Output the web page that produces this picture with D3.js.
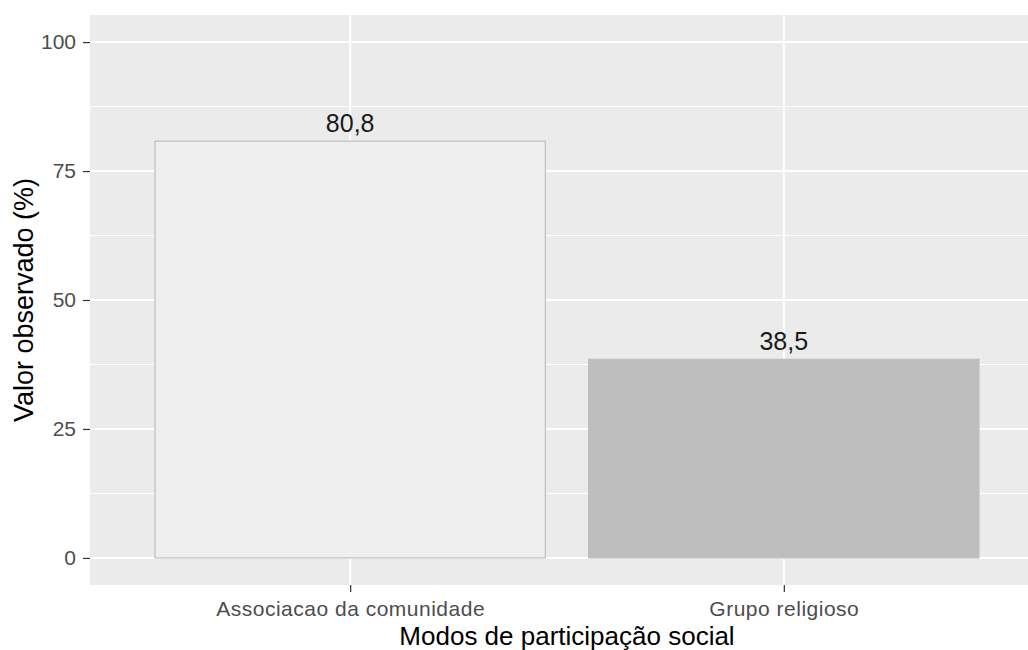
<!DOCTYPE html>
<html>
<head>
<meta charset="utf-8">
<script src="https://cdn.jsdelivr.net/npm/d3@7"></script>
<style>
  body { margin: 0; background: #fff; }
  svg { display: block; font-family: "Liberation Sans", Arial, sans-serif; }
</style>
</head>
<body>
<svg></svg>
<script>
// data
const categories = ['Associacao da comunidade', 'Grupo religioso']
const values = [80.8, 38.5]
const valueLabels = ['80,8', '38,5']
const barFills = ['#efefef', '#bebebe']
const yTicks = [0, 25, 50, 75, 100]
const yMinor = [12.5, 37.5, 62.5, 87.5]

const width = 1028
const height = 650
const panelLeft = 90
const panelRight = 1044
const panelTop = 15
const panelBottom = 585

let svg = d3.select('svg').attr('width', width).attr('height', height)

// ggplot style: discrete expand of 0.6 units, continuous 5%
let step = (panelRight - panelLeft) / 2.2
let xScale = d3.scalePoint()
    .domain(categories)
    .range([panelLeft + step * 0.6, panelRight - step * 0.6])
let barWidth = step * 0.9

let yScale = d3.scaleLinear()
    .domain([-5.25, 105.25])
    .range([panelBottom, panelTop])

// panel
svg.append('rect')
    .attr('x', panelLeft).attr('y', panelTop)
    .attr('width', panelRight - panelLeft).attr('height', panelBottom - panelTop)
    .attr('fill', '#ebebeb')

let grid = svg.append('g')
grid.selectAll('.minor')
    .data(yMinor)
    .enter()
    .append('line')
    .attr('x1', panelLeft).attr('x2', panelRight)
    .attr('y1', d => yScale(d)).attr('y2', d => yScale(d))
    .attr('stroke', '#fff').attr('stroke-width', 1)
grid.selectAll('.major')
    .data(yTicks)
    .enter()
    .append('line')
    .attr('x1', panelLeft).attr('x2', panelRight)
    .attr('y1', d => yScale(d)).attr('y2', d => yScale(d))
    .attr('stroke', '#fff').attr('stroke-width', 2)
grid.selectAll('.vmajor')
    .data(categories)
    .enter()
    .append('line')
    .attr('x1', d => xScale(d)).attr('x2', d => xScale(d))
    .attr('y1', panelTop).attr('y2', panelBottom)
    .attr('stroke', '#fff').attr('stroke-width', 2)

// bars
svg.selectAll('.bar')
    .data(categories)
    .enter()
    .append('rect')
    .attr('class', 'bar')
    .attr('x', d => xScale(d) - barWidth / 2)
    .attr('y', (d, i) => yScale(values[i]))
    .attr('width', barWidth)
    .attr('height', (d, i) => yScale(0) - yScale(values[i]))
    .attr('fill', (d, i) => barFills[i])
    .attr('stroke', '#bebebe')
    .attr('stroke-width', 1.2)

svg.selectAll('.label')
    .data(categories)
    .enter()
    .append('text')
    .attr('x', d => xScale(d))
    .attr('y', (d, i) => yScale(values[i]) - 9)
    .attr('text-anchor', 'middle')
    .attr('font-size', 25)
    .attr('fill', '#1a1a1a')
    .text((d, i) => valueLabels[i])

// axes
let xAxis = d3.axisBottom(xScale).tickSize(7).tickPadding(9)
let yAxis = d3.axisLeft(yScale).tickValues(yTicks).tickSize(7).tickPadding(7)

let gx = svg.append('g')
    .attr('transform', 'translate(0,' + panelBottom + ')')
    .call(xAxis)
gx.select('.domain').remove()
gx.selectAll('line').attr('stroke', '#333').attr('stroke-width', 1.2)
gx.selectAll('text').attr('font-size', 21).attr('letter-spacing', 0.5).attr('fill', '#4d4d4d')

let gy = svg.append('g')
    .attr('transform', 'translate(' + panelLeft + ',0)')
    .call(yAxis)
gy.select('.domain').remove()
gy.selectAll('line').attr('stroke', '#333').attr('stroke-width', 1.2)
gy.selectAll('text').attr('font-size', 21).attr('fill', '#4d4d4d')
gx.attr('font-family', null)
gy.attr('font-family', null)

// titles
svg.append('text')
    .attr('x', (panelLeft + panelRight) / 2)
    .attr('y', 645)
    .attr('text-anchor', 'middle')
    .attr('font-size', 26)
    .attr('fill', '#000')
    .text('Modos de participação social')

svg.append('text')
    .attr('transform', 'translate(33,' + (panelTop + panelBottom) / 2 + ') rotate(-90)')
    .attr('text-anchor', 'middle')
    .attr('font-size', 27)
    .attr('fill', '#000')
    .text('Valor observado (%)')
</script>
</body>
</html>
